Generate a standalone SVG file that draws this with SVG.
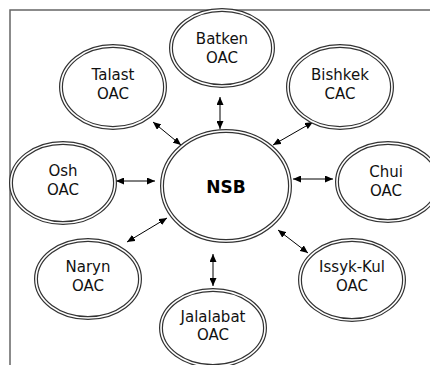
<svg xmlns="http://www.w3.org/2000/svg" width="430" height="365" viewBox="0 0 430 365">
  <style>
    .outer { fill: #fff; stroke: #333; stroke-width: 4; }
    .inner { fill: none; stroke: #fff; stroke-width: 1.6; }
    .lbl { font-family: "DejaVu Sans", Verdana, sans-serif; font-size: 15px; fill: #111; text-anchor: middle; }
    .big { font-family: "DejaVu Sans", Verdana, sans-serif; font-size: 17px; font-weight: bold; fill: #000; text-anchor: middle; }
    .frame { stroke: #666; stroke-width: 1.5; fill: none; }
    .conn { stroke: #000; stroke-width: 1; fill: none; marker-start: url(#ah); marker-end: url(#ah); }
  </style>
  <defs>
    <marker id="ah" markerWidth="8" markerHeight="7" refX="8" refY="3.5" orient="auto-start-reverse" markerUnits="userSpaceOnUse">
      <path d="M0,0 L8,3.5 L0,7 Z" fill="#000"/>
    </marker>
  </defs>
  <rect width="430" height="365" fill="#fff"/>
  <path class="frame" d="M10,365 V10 H430"/>

  <g id="connectors">
    <line class="conn" x1="220" y1="97" x2="220" y2="129"/>
    <line class="conn" x1="153" y1="122" x2="181" y2="145"/>
    <line class="conn" x1="313" y1="122" x2="273" y2="145"/>
    <line class="conn" x1="116" y1="181" x2="155" y2="181"/>
    <line class="conn" x1="293" y1="179" x2="333" y2="179"/>
    <line class="conn" x1="127" y1="242" x2="167" y2="218"/>
    <line class="conn" x1="278" y1="230" x2="308" y2="253"/>
    <line class="conn" x1="213" y1="254" x2="213" y2="286"/>
  </g>

  <g id="nsb">
    <ellipse class="outer" cx="226" cy="186" rx="64" ry="55"/>
    <ellipse class="inner" cx="226" cy="186" rx="64" ry="55"/>
    <text class="big" x="226" y="193">NSB</text>
  </g>
  <g id="batken">
    <ellipse class="outer" cx="222" cy="48" rx="51" ry="38"/>
    <ellipse class="inner" cx="222" cy="48" rx="51" ry="38"/>
    <text class="lbl" x="222" y="44">Batken</text>
    <text class="lbl" x="222" y="63">OAC</text>
  </g>
  <g id="talast">
    <ellipse class="outer" cx="113" cy="87" rx="52" ry="41"/>
    <ellipse class="inner" cx="113" cy="87" rx="52" ry="41"/>
    <text class="lbl" x="113" y="80">Talast</text>
    <text class="lbl" x="113" y="99">OAC</text>
  </g>
  <g id="bishkek">
    <ellipse class="outer" cx="340" cy="87" rx="52" ry="41"/>
    <ellipse class="inner" cx="340" cy="87" rx="52" ry="41"/>
    <text class="lbl" x="340" y="80">Bishkek</text>
    <text class="lbl" x="340" y="99">CAC</text>
  </g>
  <g id="osh">
    <ellipse class="outer" cx="63" cy="183" rx="52" ry="40"/>
    <ellipse class="inner" cx="63" cy="183" rx="52" ry="40"/>
    <text class="lbl" x="63" y="176">Osh</text>
    <text class="lbl" x="63" y="195">OAC</text>
  </g>
  <g id="chui">
    <ellipse class="outer" cx="388" cy="182" rx="51" ry="39"/>
    <ellipse class="inner" cx="388" cy="182" rx="51" ry="39"/>
    <text class="lbl" x="386" y="177">Chui</text>
    <text class="lbl" x="386" y="196">OAC</text>
  </g>
  <g id="naryn">
    <ellipse class="outer" cx="88" cy="279" rx="52" ry="39"/>
    <ellipse class="inner" cx="88" cy="279" rx="52" ry="39"/>
    <text class="lbl" x="88" y="272">Naryn</text>
    <text class="lbl" x="88" y="291">OAC</text>
  </g>
  <g id="issykkul">
    <ellipse class="outer" cx="352" cy="280" rx="52" ry="40"/>
    <ellipse class="inner" cx="352" cy="280" rx="52" ry="40"/>
    <text class="lbl" x="352" y="272">Issyk-Kul</text>
    <text class="lbl" x="352" y="291">OAC</text>
  </g>
  <g id="jalalabat">
    <ellipse class="outer" cx="213" cy="328" rx="52" ry="38"/>
    <ellipse class="inner" cx="213" cy="328" rx="52" ry="38"/>
    <text class="lbl" x="213" y="322">Jalalabat</text>
    <text class="lbl" x="213" y="340">OAC</text>
  </g>
</svg>
